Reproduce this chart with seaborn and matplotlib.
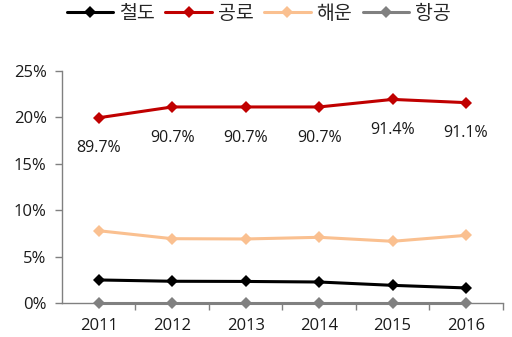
import matplotlib
matplotlib.use("Agg")
import matplotlib.pyplot as plt
from matplotlib.ticker import FixedLocator, PercentFormatter, NullFormatter
import seaborn as sns
import pandas as pd

years = ["2011", "2012", "2013", "2014", "2015", "2016"]
rail = [2.48, 2.34, 2.32, 2.26, 1.90, 1.62]
road = [89.7, 90.7, 90.7, 90.7, 91.4, 91.1]
shipping = [7.79, 6.93, 6.90, 7.08, 6.65, 7.29]
air = [0.02, 0.02, 0.02, 0.02, 0.02, 0.02]
names = ["철도", "공로", "해운", "항공"]
colors = ["#000000", "#C00000", "#FAC090", "#808080"]

sns.set_theme(style="white")
plt.rcParams["font.family"] = ["Open Sans", "Noto Sans CJK KR", "DejaVu Sans"]

W, H = 512, 337
fig = plt.figure(figsize=(W / 100, H / 100), dpi=100)
ax = fig.add_axes([0.121, 0.101, 0.861, 0.688])
ax2 = ax.twinx()

x = list(range(len(years)))
line_kw = dict(marker="D", markersize=6.5, linewidth=2.2, markeredgewidth=0)

handles = {}
for vals, name, col, z in [(air, names[3], colors[3], 2), (shipping, names[2], colors[2], 3),
                           (rail, names[0], colors[0], 4)]:
    df = pd.DataFrame({"x": x, "y": vals})
    sns.lineplot(data=df, x="x", y="y", ax=ax, color=col, zorder=z, clip_on=False, **line_kw)
    handles[name] = ax.lines[-1]

df_road = pd.DataFrame({"x": x, "y": road})
sns.lineplot(data=df_road, x="x", y="y", ax=ax2, color=colors[1], clip_on=False, **line_kw)
handles[names[1]] = ax2.lines[-1]

# road share is read against a hidden secondary scale
ax2.set_ylim(72.55, 94.02)
ax2.set_yticks([])
ax2.set_ylabel("")
for s in ax2.spines.values():
    s.set_visible(False)
for xi, v in zip(x, road):
    ax2.annotate(f"{v:.1f}%", (xi, v), xytext=(0, -22), textcoords="offset points",
                 ha="center", va="center", fontsize=11.5, color="#1a1a1a")

ax.set_xlim(-0.5, len(years) - 0.5)
ax.set_ylim(0, 25)
ax.set_yticks([0, 5, 10, 15, 20, 25])
ax.yaxis.set_major_formatter(PercentFormatter(decimals=0))
ax.set_xticks(x)
ax.set_xticklabels(years)
ax.xaxis.set_minor_locator(FixedLocator([i + 0.5 for i in range(len(years))]))
ax.xaxis.set_minor_formatter(NullFormatter())
ax.tick_params(axis="x", which="major", length=0, pad=11, labelsize=12, colors="#1a1a1a")
ax.tick_params(axis="x", which="minor", length=5, width=1, color="#808080", direction="out", bottom=True)
ax.tick_params(axis="y", length=5, width=1, color="#808080", direction="out", left=True,
               labelsize=12, labelcolor="#1a1a1a", pad=6)
ax.set_xlabel("")
ax.set_ylabel("")
for side in ["top", "right"]:
    ax.spines[side].set_visible(False)
for side in ["left", "bottom"]:
    ax.spines[side].set_color("#808080")
    ax.spines[side].set_linewidth(1)

# legend row spanning from x=62 px to x=451 px across the top
LEG_LEFT, LEG_RIGHT, LEG_FS = 62, 451, 14
fs_px = LEG_FS * 100 / 72


def make_legend(cs, anchor_x):
    return fig.legend([handles[n] for n in names], names, loc="upper left",
                      bbox_to_anchor=(anchor_x, 1.008), ncol=4, frameon=False,
                      fontsize=LEG_FS, handlelength=2.4, columnspacing=cs,
                      handletextpad=0.3, borderaxespad=0)


cs, anchor_x = 1.0, 0.1
leg = make_legend(cs, anchor_x)
for _ in range(4):
    fig.canvas.draw()
    r = fig.canvas.get_renderer()
    lx = leg.legend_handles[0].get_window_extent(r).x0
    rx = leg.get_texts()[-1].get_window_extent(r).x1
    cs = max(0.2, cs + ((LEG_RIGHT - LEG_LEFT) - (rx - lx)) / 3 / fs_px)
    anchor_x += (LEG_LEFT - lx) / W
    leg.remove()
    leg = make_legend(cs, anchor_x)

fig.savefig("out.png", dpi=100)
